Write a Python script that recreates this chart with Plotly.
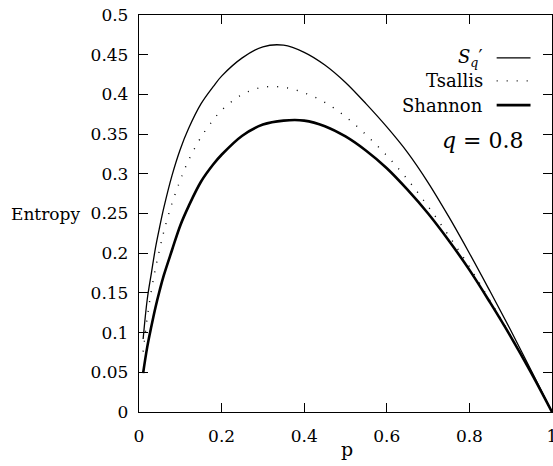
import plotly.graph_objects as go

# ---- data ----
p_vals = [0.01, 0.02, 0.03, 0.04, 0.05, 0.06, 0.08, 0.10, 0.12, 0.15, 0.18, 0.20,
          0.25, 0.30, 0.35, 0.40, 0.45, 0.50, 0.55, 0.60, 0.65, 0.70, 0.75, 0.80,
          0.85, 0.90, 0.95, 1.00]

sq_prime = [0.092, 0.142, 0.175, 0.207, 0.233, 0.257, 0.298, 0.331, 0.357, 0.388, 0.410, 0.423,
            0.446, 0.460, 0.462, 0.453, 0.437, 0.415, 0.388, 0.359, 0.327, 0.289, 0.246, 0.200,
            0.152, 0.103, 0.052, 0.0]

tsallis = [0.076, 0.119, 0.153, 0.181, 0.205, 0.227, 0.263, 0.292, 0.317, 0.346, 0.368, 0.380,
           0.400, 0.409, 0.409, 0.402, 0.390, 0.372, 0.349, 0.323, 0.293, 0.259, 0.222, 0.183,
           0.140, 0.096, 0.049, 0.0]

shannon = [0.049, 0.082, 0.108, 0.132, 0.153, 0.172, 0.204, 0.235, 0.259, 0.290, 0.312, 0.324,
           0.348, 0.362, 0.367, 0.367, 0.360, 0.347, 0.329, 0.307, 0.280, 0.250, 0.216, 0.179,
           0.138, 0.095, 0.049, 0.0]

x_ticks = [0, 0.2, 0.4, 0.6, 0.8, 1]
x_tick_labels = ["0", "0.2", "0.4", "0.6", "0.8", "1"]
y_ticks = [0, 0.05, 0.1, 0.15, 0.2, 0.25, 0.3, 0.35, 0.4, 0.45, 0.5]
y_tick_labels = ["0", "0.05", "0.1", "0.15", "0.2", "0.25", "0.3", "0.35", "0.4", "0.45", "0.5"]

legend_labels = ["<i>S<sub>q</sub></i>\u2032", "Tsallis", "Shannon"]

FONT = "DejaVu Serif"
DOT = "1px,9px"

fig = go.Figure()
fig.add_trace(go.Scatter(x=p_vals, y=sq_prime, mode="lines", line=dict(color="black", width=1.3),
                         line_shape="spline", showlegend=False))
fig.add_trace(go.Scatter(x=p_vals, y=tsallis, mode="lines", line=dict(color="black", width=1.4, dash=DOT),
                         line_shape="spline", showlegend=False))
fig.add_trace(go.Scatter(x=p_vals, y=shannon, mode="lines", line=dict(color="black", width=2.6),
                         line_shape="spline", showlegend=False))

# legend (gnuplot style: text then sample line)
row_y = [0.892, 0.834, 0.773]
styles = [dict(color="black", width=1.3), dict(color="black", width=1.4, dash=DOT), dict(color="black", width=2.8)]
for lab, ry, st in zip(legend_labels, row_y, styles):
    fig.add_annotation(x=0.837, y=ry, xref="paper", yref="paper", text=lab, showarrow=False,
                       xanchor="right", yanchor="middle", font=dict(family=FONT, size=18, color="black"))
    fig.add_shape(type="line", xref="paper", yref="paper", x0=0.866, x1=0.948, y0=ry, y1=ry, line=st)

fig.add_annotation(x=0.938, y=0.683, xref="paper", yref="paper", text="<i>q</i> = 0.8", showarrow=False,
                   xanchor="right", yanchor="middle", font=dict(family=FONT, size=22, color="black"))

fig.add_annotation(x=-0.137, y=0.25, xref="paper", yref="y", text="Entropy", showarrow=False,
                   xanchor="right", yanchor="middle", font=dict(family=FONT, size=17, color="black"))
fig.add_annotation(x=0.503, y=-0.092, xref="paper", yref="paper", text="p", showarrow=False,
                   xanchor="center", yanchor="middle", font=dict(family=FONT, size=19, color="black"))

axis_common = dict(showgrid=False, zeroline=False, showline=True, linecolor="black", linewidth=1.3,
                   mirror="ticks", ticks="inside", ticklen=9, tickwidth=1.3, tickcolor="black",
                   ticklabeloverflow="allow",
                   tickfont=dict(family=FONT, size=17, color="black"))

fig.update_xaxes(range=[0, 1], tickvals=x_ticks, ticktext=x_tick_labels, ticklabelstandoff=8, **axis_common)
fig.update_yaxes(range=[0, 0.5], tickvals=y_ticks, ticktext=y_tick_labels, ticklabelstandoff=6, **axis_common)

fig.update_layout(width=553, height=466, margin=dict(l=139, r=1, t=15, b=54, autoexpand=False),
                  paper_bgcolor="white", plot_bgcolor="white", showlegend=False)

fig.write_html("out.html", config={"displayModeBar": False},
               post_script="document.body.style.margin='0';document.body.style.overflow='hidden';")
